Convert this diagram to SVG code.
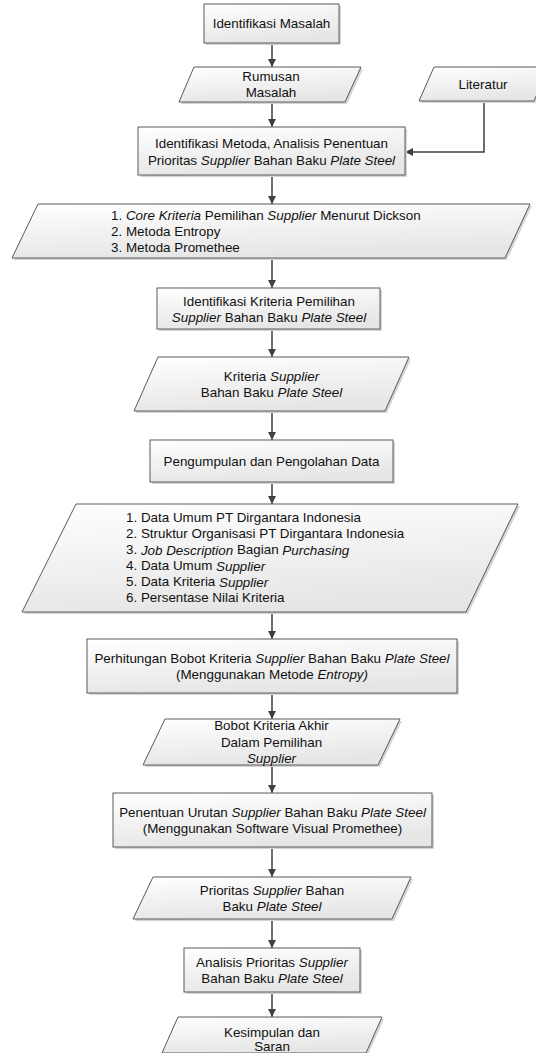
<svg xmlns="http://www.w3.org/2000/svg" width="536" height="1053" viewBox="0 0 536 1053">
<style>
.shape{fill:url(#g);stroke:#5a5a5a;stroke-width:1}
.sh{fill:#d4d4d4;stroke:none}
text{font-family:"Liberation Sans",Arial,sans-serif;font-size:13.4px;fill:#111111;dominant-baseline:central}
.c{text-anchor:middle}
.i{font-style:italic}
.con{fill:none;stroke:#404040;stroke-width:1.5;marker-end:url(#ah)}
</style>
<defs>
<linearGradient id="g" x1="0" y1="0" x2="0.3" y2="1">
<stop offset="0" stop-color="#ffffff"/>
<stop offset="1" stop-color="#e6e6e6"/>
</linearGradient>
<marker id="ah" viewBox="0 0 10 10" refX="10" refY="5" markerWidth="9" markerHeight="8" markerUnits="userSpaceOnUse" orient="auto">
<path d="M0,0 L10,5 L0,10 z" fill="#404040"/>
</marker>
</defs>
<rect width="536" height="1053" fill="#ffffff"/>

<g id="connectors">
<path class="con" d="M272,43 V67"/>
<path class="con" d="M272,102 V127"/>
<path class="con" d="M484,101 V152 H405"/>
<path class="con" d="M272,175 V204"/>
<path class="con" d="M272,258 V288"/>
<path class="con" d="M272,329 V357"/>
<path class="con" d="M272,411 V440"/>
<path class="con" d="M272,482 V504"/>
<path class="con" d="M272,612 V639"/>
<path class="con" d="M272,693 V719"/>
<path class="con" d="M272,765 V793"/>
<path class="con" d="M272,847 V877"/>
<path class="con" d="M272,919 V948"/>
<path class="con" d="M272,992 V1017"/>
</g>

<g id="n1">
<rect class="sh" x="206" y="6" width="135" height="39"/>
<rect class="shape" x="204" y="4" width="135" height="39"/>
<text class="c" x="271.5" y="23.5">Identifikasi Masalah</text>
</g>

<g id="n2">
<polygon class="sh" points="196,69 363,69 347,104 181,104"/>
<polygon class="shape" points="194,67 361,67 345,102 179,102"/>
<text class="c" x="271" y="76">Rumusan</text>
<text class="c" x="271" y="92">Masalah</text>
</g>

<g id="n3">
<polygon class="sh" points="436,69 551,69 536,103 421,103"/>
<polygon class="shape" points="434,67 549,67 534,101 419,101"/>
<text class="c" x="483" y="84">Literatur</text>
</g>

<g id="n4">
<rect class="sh" x="140" y="129" width="267" height="48"/>
<rect class="shape" x="138" y="127" width="267" height="48"/>
<text class="c" x="271.5" y="143.5">Identifikasi Metoda, Analisis Penentuan</text>
<text class="c" x="271.5" y="160">Prioritas <tspan class="i">Supplier</tspan> Bahan Baku <tspan class="i">Plate Steel</tspan></text>
</g>

<g id="n5">
<polygon class="sh" points="40,206 532,206 507,260 14,260"/>
<polygon class="shape" points="38,204 530,204 505,258 12,258"/>
<text x="111" y="215"><tspan>1. </tspan><tspan class="i">Core Kriteria</tspan> Pemilihan <tspan class="i">Supplier</tspan> Menurut Dickson</text>
<text x="111" y="231">2. Metoda Entropy</text>
<text x="111" y="247">3. Metoda Promethee</text>
</g>

<g id="n6">
<rect class="sh" x="159" y="290" width="223" height="41"/>
<rect class="shape" x="157" y="288" width="223" height="41"/>
<text class="c" x="269" y="301">Identifikasi Kriteria Pemilihan</text>
<text class="c" x="269" y="317"><tspan class="i">Supplier</tspan> Bahan Baku <tspan class="i">Plate Steel</tspan></text>
</g>

<g id="n7">
<polygon class="sh" points="160,359 411,359 387,413 136,413"/>
<polygon class="shape" points="158,357 409,357 385,411 134,411"/>
<text class="c" x="271.5" y="376">Kriteria <tspan class="i">Supplier</tspan></text>
<text class="c" x="271.5" y="392">Bahan Baku <tspan class="i">Plate Steel</tspan></text>
</g>

<g id="n8">
<rect class="sh" x="152" y="442" width="243" height="42"/>
<rect class="shape" x="150" y="440" width="243" height="42"/>
<text class="c" x="271.5" y="461">Pengumpulan dan Pengolahan Data</text>
</g>

<g id="n9">
<polygon class="sh" points="78,506 520,506 468,614 24,614"/>
<polygon class="shape" points="76,504 518,504 466,612 22,612"/>
<text x="126" y="517.5">1. Data Umum PT Dirgantara Indonesia</text>
<text x="126" y="533.5">2. Struktur Organisasi PT Dirgantara Indonesia</text>
<text x="126" y="549.5">3. <tspan class="i">Job Description</tspan> Bagian <tspan class="i">Purchasing</tspan></text>
<text x="126" y="565.5">4. Data Umum <tspan class="i">Supplier</tspan></text>
<text x="126" y="581.5">5. Data Kriteria <tspan class="i">Supplier</tspan></text>
<text x="126" y="597.5">6. Persentase Nilai Kriteria</text>
</g>

<g id="n10">
<rect class="sh" x="89" y="641" width="370" height="54"/>
<rect class="shape" x="87" y="639" width="370" height="54"/>
<text class="c" x="272" y="658">Perhitungan Bobot Kriteria <tspan class="i">Supplier</tspan> Bahan Baku <tspan class="i">Plate Steel</tspan></text>
<text class="c" x="272" y="674">(Menggunakan Metode <tspan class="i">Entropy)</tspan></text>
</g>

<g id="n11">
<polygon class="sh" points="167,721 402,721 380,767 145,767"/>
<polygon class="shape" points="165,719 400,719 378,765 143,765"/>
<text class="c" x="271.5" y="725">Bobot Kriteria Akhir</text>
<text class="c" x="271.5" y="742">Dalam Pemilihan</text>
<text class="c i" x="271.5" y="758">Supplier</text>
</g>

<g id="n12">
<rect class="sh" x="115" y="795" width="319" height="54"/>
<rect class="shape" x="113" y="793" width="319" height="54"/>
<text class="c" x="272.5" y="812">Penentuan Urutan <tspan class="i">Supplier</tspan> Bahan Baku <tspan class="i">Plate Steel</tspan></text>
<text class="c" x="272.5" y="828">(Menggunakan Software Visual Promethee)</text>
</g>

<g id="n13">
<polygon class="sh" points="155,879 413,879 394,921 135,921"/>
<polygon class="shape" points="153,877 411,877 392,919 133,919"/>
<text class="c" x="272" y="890">Prioritas <tspan class="i">Supplier</tspan> Bahan</text>
<text class="c" x="272" y="906">Baku <tspan class="i">Plate Steel</tspan></text>
</g>

<g id="n14">
<rect class="sh" x="186" y="950" width="176" height="44"/>
<rect class="shape" x="184" y="948" width="176" height="44"/>
<text class="c" x="272" y="962">Analisis Prioritas <tspan class="i">Supplier</tspan></text>
<text class="c" x="272" y="978">Bahan Baku <tspan class="i">Plate Steel</tspan></text>
</g>

<g id="n15">
<polygon class="sh" points="180,1019 384,1019 368,1055 164,1055"/>
<polygon class="shape" points="178,1017 382,1017 366,1053 162,1053"/>
<text class="c" x="272" y="1032">Kesimpulan dan</text>
<text class="c" x="272" y="1046">Saran</text>
</g>
</svg>
